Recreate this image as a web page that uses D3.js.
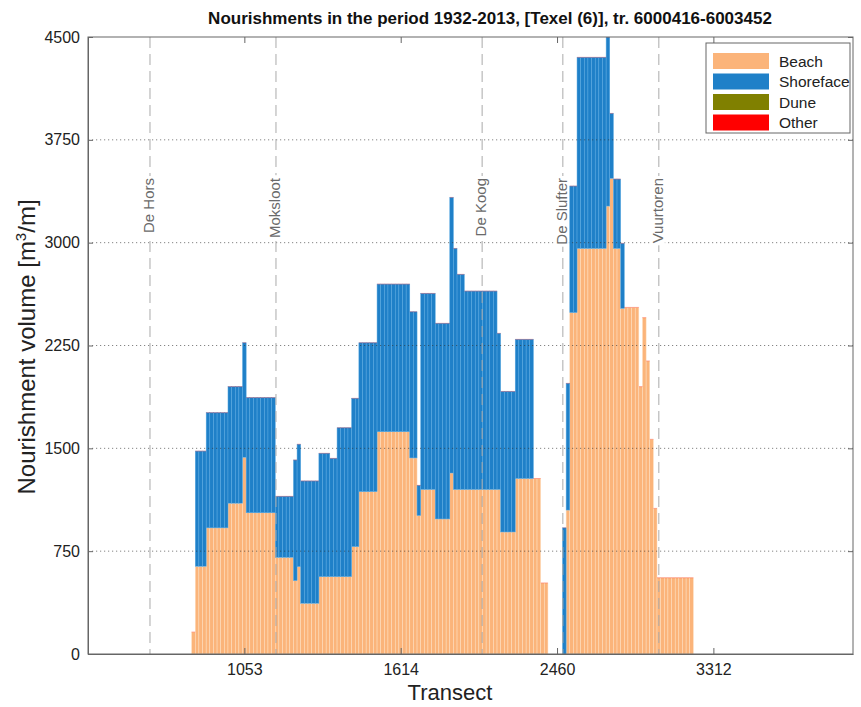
<!DOCTYPE html>
<html><head><meta charset="utf-8">
<script src="https://cdn.jsdelivr.net/npm/d3@7"></script>
<style>body{margin:0;background:#fff;} text{font-family:"Liberation Sans",Arial,sans-serif;}</style>
</head><body><svg id="c" width="861" height="707"></svg>
<script>
const firstIndex = 29;
const beach = [160,
640,640,640,
920,920,920,920,920,920,
1100,1100,1100,1100,
1435,
1030,1030,1030,1030,1030,1030,1030,1030,
705,705,705,705,705,
535,
637,
370,370,370,370,370,
564,564,564,564,564,
564,564,564,564,
783,783,
1184,1184,1184,1184,1184,
1621,1621,1621,1621,1621,1621,1621,1621,1621,
1430,1430,
1010,
1200,1200,1200,1200,
985,985,985,985,
1320,
1200,1200,1200,1200,1200,1200,1200,1200,1200,1200,1200,1200,1200,
890,890,890,890,
1280,1280,1280,1280,1280,1280,1280,
518,518,
0,0,0,0,0,
1050,
2490,2490,
2958,2958,2958,2958,2958,2958,2958,2958,
3267,3469,
2958,2958,
2521,
2528,2528,2528,2528,
1950,2453,2137,1566,1062,
556,556,556,556,556,556,556,556,556,556];
const shoreface = [0,
840,840,840,
840,840,840,840,840,840,
850,850,850,850,
835,
840,840,840,840,840,840,840,840,
445,445,445,445,445,
880,
893,
892,892,892,892,892,
900,900,900,
863,863,
1086,1086,1086,1086,
1082,1082,
1086,1086,1086,1086,1086,
1077,1077,1077,1077,1077,1077,1077,1077,1077,
1066,1066,
220,
1430,1430,1430,1430,
1427,1427,1427,1427,
2010,
1758,
1569,1569,
1447,1447,1447,1447,1447,1447,1447,1447,1447,
1139,
1025,1025,1025,1025,
1015,1015,1015,1015,1015,
0,0,0,0,0,0,0,0,
920,924,923,923,
1394,1394,1394,1394,1394,1394,1394,1394,
1233,474,506,506,474,
0,0,0,0,0,0,0,0,0,0,0,0,0,0,0,0,0,0,0];
const seriesNames = ["Beach","Shoreface","Dune","Other"];
const seriesColors = ["#fbb47a","#1f80c8","#808000","#ff0000"];
const tickIndex = [43,86,129,172];
const tickLabels = ["1053","1614","2460","3312"];
const yTicks = [0,750,1500,2250,3000,3750,4500];
const locNames = ["De Hors","Moksloot","De Koog","De Slufter","Vuurtoren"];
const locIndex = [17.05,51.7,108.4,130.6,157.0];
const xMax = 210.4, yMax = 4500;

const svg = d3.select("#c");
const L=88,R=853,T=37,B=654;
const x = d3.scaleLinear().domain([0,xMax]).range([L,R]);
const y = d3.scaleLinear().domain([0,yMax]).range([B,T]);

svg.append("defs").append("clipPath").attr("id","clip").append("rect")
  .attr("x",L).attr("y",T).attr("width",R-L).attr("height",B-T);

const rows = beach.map((b,i)=>({k:firstIndex+i, Beach:b, Shoreface:shoreface[i], Dune:0, Other:0}));
const stack = d3.stack().keys(seriesNames)(rows);

const strokeCols = ["#fde0c2","#5aa9e2","#a0a040","#ff6060"];
const gb = svg.append("g").attr("clip-path","url(#clip)");
stack.forEach((s,si)=>{
  gb.append("g").selectAll("rect").data(s.filter(d=>d[1]-d[0]>0)).join("rect")
    .attr("x",d=>x(d.data.k-0.5)).attr("width",d=>x(d.data.k+0.5)-x(d.data.k-0.5))
    .attr("y",d=>y(d[1])).attr("height",d=>y(d[0])-y(d[1]))
    .attr("fill",seriesColors[si]).attr("stroke",strokeCols[si]).attr("stroke-width",0.5);
});
// zero-height "Other" bar edges at the top of each stack
const topEdges = stack[3].filter(d=>d[1]>0);
gb.append("g").selectAll("line").data(topEdges).join("line")
  .attr("x1",d=>x(d.data.k-0.5)).attr("x2",d=>x(d.data.k+0.5))
  .attr("y1",d=>y(d[1])).attr("y2",d=>y(d[1]))
  .attr("stroke","#ff0000").attr("stroke-opacity",0.35).attr("stroke-width",0.8);

// grid (on top)
svg.append("g").selectAll("line").data(yTicks.filter(v=>v>0&&v<yMax)).join("line")
  .attr("x1",L).attr("x2",R).attr("y1",d=>y(d)).attr("y2",d=>y(d))
  .attr("stroke","#333").attr("stroke-opacity",0.6).attr("stroke-width",1).attr("stroke-dasharray","1.2,2.8");

// location lines
const lg = svg.append("g");
locIndex.forEach((li,i)=>{
  const xx = x(li);
  lg.append("line").attr("x1",xx).attr("x2",xx).attr("y1",T).attr("y2",B)
    .attr("stroke","#aaa").attr("stroke-width",1).attr("stroke-dasharray","11,6");
  const g = lg.append("g").attr("transform",`translate(${xx+4},178) rotate(-90)`);
  const t = g.append("text").attr("x",0).attr("y",0).attr("text-anchor","end")
    .attr("font-size",15).attr("fill","#6a6a6a").text(locNames[i]);
  const bb = t.node().getBBox();
  g.insert("rect","text").attr("x",bb.x-2).attr("y",bb.y+1).attr("width",bb.width+4).attr("height",bb.height-2).attr("fill","#fff");
});

// axes box
svg.append("rect").attr("x",L).attr("y",T).attr("width",R-L).attr("height",B-T)
  .attr("fill","none").attr("stroke","#666").attr("stroke-width",1);

const xa = svg.append("g").attr("transform",`translate(0,${B})`)
  .call(d3.axisBottom(x).tickValues(tickIndex).tickFormat((d,i)=>tickLabels[i]).tickSizeInner(-6).tickSizeOuter(0).tickPadding(10));
xa.select(".domain").attr("stroke","#666");
xa.selectAll(".tick line").attr("stroke","#666");
xa.selectAll("text").attr("font-size",16).attr("fill","#222");
const xt = svg.append("g").attr("transform",`translate(0,${T})`)
  .call(d3.axisTop(x).tickValues(tickIndex).tickFormat("").tickSizeInner(-6).tickSizeOuter(0));
xt.select(".domain").remove(); xt.selectAll(".tick line").attr("stroke","#666");

const ya = svg.append("g").attr("transform",`translate(${L},0)`)
  .call(d3.axisLeft(y).tickValues(yTicks).tickFormat(d3.format("d")).tickSizeInner(-5).tickSizeOuter(0).tickPadding(8));
ya.select(".domain").attr("stroke","#666");
ya.selectAll(".tick line").attr("stroke","#666");
ya.selectAll("text").attr("font-size",16).attr("fill","#222");
const yr = svg.append("g").attr("transform",`translate(${R},0)`)
  .call(d3.axisRight(y).tickValues(yTicks).tickFormat("").tickSizeInner(-5).tickSizeOuter(0));
yr.select(".domain").remove(); yr.selectAll(".tick line").attr("stroke","#666");

// labels
svg.append("text").attr("x",490).attr("y",24).attr("text-anchor","middle")
  .attr("font-size",17).attr("font-weight","bold").attr("fill","#111")
  .text("Nourishments in the period 1932-2013, [Texel (6)], tr. 6000416-6003452");
svg.append("text").attr("x",450).attr("y",700).attr("text-anchor","middle")
  .attr("font-size",22).attr("fill","#222").text("Transect");
const yl = svg.append("text").attr("transform","translate(35,347) rotate(-90)").attr("text-anchor","middle")
  .attr("font-size",24).attr("fill","#222");
yl.append("tspan").text("Nourishment volume [m");
yl.append("tspan").attr("font-size",15).attr("dy",-9).text("3");
yl.append("tspan").attr("dy",9).text("/m]");

// legend
const lgd = svg.append("g");
lgd.append("rect").attr("x",706).attr("y",43).attr("width",144).attr("height",90)
  .attr("fill","#fff").attr("stroke","#666");
seriesNames.forEach((n,i)=>{
  const cy = 61 + i*20.5;
  lgd.append("rect").attr("x",713).attr("y",cy-8).attr("width",56).attr("height",16).attr("fill",seriesColors[i]);
  lgd.append("text").attr("x",779).attr("y",cy+5.5).attr("font-size",15.5).attr("fill","#222").text(n);
});
</script></body></html>
